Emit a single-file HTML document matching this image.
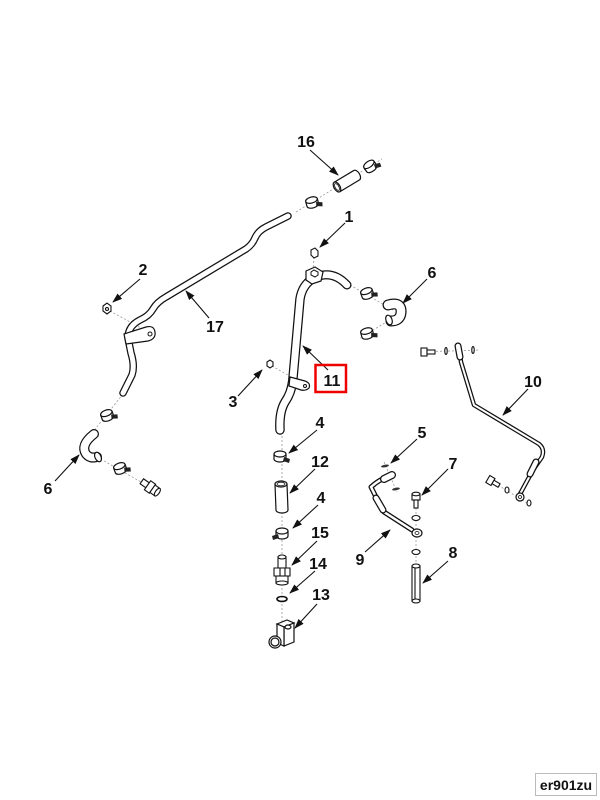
<!DOCTYPE html>
<html><head><meta charset="utf-8"><style>
html,body{margin:0;padding:0;background:#fff;}
svg{display:block}
text{font-family:"Liberation Sans",Arial,sans-serif;font-weight:bold;font-size:16px;fill:#111;text-anchor:middle}
</style></head><body>
<svg width="600" height="800" viewBox="0 0 600 800" xmlns="http://www.w3.org/2000/svg">
<defs>
<marker id="ah" markerWidth="10" markerHeight="8" refX="9" refY="4" orient="auto" markerUnits="userSpaceOnUse"><path d="M0,0.5 L10,4 L0,7.5z" fill="#111"/></marker>
<g id="clamp">
  <path d="M-6,-2 L-6,3 A6,3 0 0 0 6,3 L6,-2" fill="#fff" stroke="#111" stroke-width="1.2"/>
  <ellipse cx="0" cy="-2" rx="6" ry="3" fill="#fff" stroke="#111" stroke-width="1.2"/>
  <path d="M4,1 L10,3 L9,7 L3,5 Z" fill="#222"/>
</g>
</defs>

<!-- dashed centre lines -->
<g stroke="#999" stroke-width="0.8" stroke-dasharray="2,2" fill="none">
<path d="M296,212 L382,159"/>
<path d="M314,257 L313,270"/>
<path d="M110,311 L150,333"/>
<path d="M272,366 L307,386"/>
<path d="M350,285 L393,310"/>
<path d="M388,321 L360,338"/>
<path d="M123,394 L92,433"/>
<path d="M97,457 L150,487"/>
<path d="M282,432 L282,624"/>
<path d="M420,352 L480,350"/>
<path d="M488,479 L532,506"/>
<path d="M384,462 L397,492"/>
<path d="M416,492 L416,566"/>
</g>

<!-- pipe 17 -->
<g fill="none" stroke-linecap="round" stroke-linejoin="round">
<path d="M288,216 L266,227 Q258,231 255,238 Q252,245 246,249 L166,297 Q157,302 153,309 Q149,316 140,320 Q128,326 128,338 L131,353 Q135,366 132,375 L123,393" stroke="#111" stroke-width="7.5"/>
<path d="M288,216 L266,227 Q258,231 255,238 Q252,245 246,249 L166,297 Q157,302 153,309 Q149,316 140,320 Q128,326 128,338 L131,353 Q135,366 132,375 L123,393" stroke="#fff" stroke-width="5"/>
</g>
<path d="M124,334 L146,327 Q154,325 155,332 Q156,339 148,341 L126,344 Z" fill="#fff" stroke="#111" stroke-width="1.2"/>
<circle cx="150" cy="334" r="2" fill="#fff" stroke="#111" stroke-width="1"/>

<!-- pipe 11 -->
<g fill="none" stroke-linecap="round" stroke-linejoin="round">
<path d="M316,277 Q333,270 347,285" stroke="#111" stroke-width="9"/>
<path d="M316,277 Q333,270 347,285" stroke="#fff" stroke-width="6.5"/>
<path d="M312,279 Q302,286 300,299 L293,378 Q292,392 285,402 Q279,412 280,430" stroke="#111" stroke-width="9.5"/>
<path d="M312,279 Q302,286 300,299 L293,378 Q292,392 285,402 Q279,412 280,430" stroke="#fff" stroke-width="7"/>
</g>
<path d="M306,271 L315,267 L323,272 L321,281 L312,284 L306,280 Z" fill="#fff" stroke="#111" stroke-width="1.2"/>
<path d="M311,272 L314,270 L318,272 L318,275 L315,277 L311,275 Z" fill="#fff" stroke="#111" stroke-width="1"/>
<path d="M290,377 L305,381 Q311,383 309,388 Q306,391 301,390 L289,386 Z" fill="#fff" stroke="#111" stroke-width="1.2"/>
<circle cx="305" cy="386" r="1.5" fill="#fff" stroke="#111" stroke-width="1"/>

<!-- hose 16 -->
<g transform="translate(337,187) rotate(-31)">
  <path d="M0,-5.5 L23,-5.5 A3,5.5 0 0 1 23,5.5 L0,5.5" fill="#fff" stroke="#111" stroke-width="1.2"/>
  <ellipse cx="0" cy="0" rx="3" ry="5.5" fill="#fff" stroke="#111" stroke-width="1.2"/>
  <ellipse cx="0" cy="0" rx="1.8" ry="3.8" fill="#fff" stroke="#111" stroke-width="0.8"/>
</g>

<!-- clamps -->
<use href="#clamp" transform="translate(370,166) rotate(-35)"/>
<use href="#clamp" transform="translate(312,202) rotate(-15)"/>
<use href="#clamp" transform="translate(367,293) rotate(-20)"/>
<use href="#clamp" transform="translate(367,333) rotate(-15)"/>
<use href="#clamp" transform="translate(107,415) rotate(-20)"/>
<use href="#clamp" transform="translate(120,468) rotate(-20)"/>
<use href="#clamp" transform="translate(280,456)"/>
<use href="#clamp" transform="translate(282,533) scale(-1,1)"/>

<!-- elbow 6 right -->
<g fill="none" stroke-linecap="round">
<path d="M388,305 Q402,301 401,313 Q400,321 391,321" stroke="#111" stroke-width="11"/>
<path d="M388,305 Q402,301 401,313 Q400,321 391,321" stroke="#fff" stroke-width="8.5"/>
</g>
<ellipse cx="389" cy="320" rx="3" ry="5" fill="#fff" stroke="#111" stroke-width="1.2" transform="rotate(-20 389 320)"/>

<!-- elbow 6 left -->
<g fill="none" stroke-linecap="round">
<path d="M94,434 Q80,445 86,454 Q90,459 97,457" stroke="#111" stroke-width="10"/>
<path d="M94,434 Q80,445 86,454 Q90,459 97,457" stroke="#fff" stroke-width="7.5"/>
</g>
<ellipse cx="98" cy="457" rx="3" ry="5" fill="#fff" stroke="#111" stroke-width="1.2" transform="rotate(-25 98 457)"/>

<!-- left fitting -->
<g transform="translate(150,487) rotate(35)" fill="#fff" stroke="#111" stroke-width="1.1">
  <rect x="-10" y="-3" width="7" height="6"/>
  <rect x="-3" y="-5.5" width="6" height="11"/>
  <rect x="3" y="-4.5" width="6" height="9"/>
  <ellipse cx="9" cy="0" rx="2" ry="4.5"/>
</g>

<!-- nuts -->
<g fill="#fff" stroke="#111" stroke-width="1.1">
<path d="M311,250 L315,248 L318,251 L318,256 L314,258 L311,255 Z"/>
<path d="M103,306 L107,303 L111,306 L111,311 L107,314 L103,311 Z"/>
<circle cx="107" cy="309" r="1.5"/>
<path d="M267,362 L270,360 L273,362 L273,366 L270,368 L267,366 Z"/>
</g>

<!-- hose 12 -->
<path d="M275,484 L276,510 A6,3 0 0 0 288,510 L287,484" fill="#fff" stroke="#111" stroke-width="1.2"/>
<ellipse cx="281" cy="484" rx="6" ry="3" fill="#fff" stroke="#111" stroke-width="1.2"/>
<ellipse cx="281" cy="484" rx="4" ry="1.8" fill="#fff" stroke="#111" stroke-width="0.8"/>

<!-- fitting 15 -->
<g fill="#fff" stroke="#111" stroke-width="1.1">
<rect x="278" y="557" width="8" height="11"/>
<ellipse cx="282" cy="557" rx="4" ry="2"/>
<path d="M274,568 L290,568 L290,576 L274,576 Z"/>
<line x1="280" y1="568" x2="280" y2="576"/>
<line x1="285" y1="568" x2="285" y2="576"/>
<rect x="276" y="576" width="12" height="7"/>
<ellipse cx="282" cy="583" rx="6" ry="2"/>
</g>

<!-- o-ring 14 -->
<ellipse cx="282" cy="599" rx="5" ry="2.5" fill="none" stroke="#111" stroke-width="1.6"/>

<!-- elbow 13 -->
<g fill="#fff" stroke="#111" stroke-width="1.2">
<path d="M277,624 L287,620 L294,623 L284,627 Z"/>
<path d="M284,627 L294,623 L294,642 L284,646 Z"/>
<path d="M277,624 L284,627 L284,646 L277,643 Z"/>
<ellipse cx="288" cy="627" rx="3" ry="2"/>
<circle cx="275" cy="642" r="6"/>
<circle cx="275" cy="642" r="4"/>
</g>

<!-- pipe 10 -->
<g fill="none" stroke-linecap="round" stroke-linejoin="round">
<path d="M459,347 L461,362 L474,405 L539,444 Q545,449 542,457 L533,470 L520,494" stroke="#111" stroke-width="4.5"/>
<path d="M459,347 L461,362 L474,405 L539,444 Q545,449 542,457 L533,470 L520,494" stroke="#fff" stroke-width="2"/>
<path d="M458,346 L460,357" stroke="#111" stroke-width="7"/>
<path d="M458,346 L460,357" stroke="#fff" stroke-width="4.5"/>
<path d="M536,462 L530,474" stroke="#111" stroke-width="7"/>
<path d="M536,462 L530,474" stroke="#fff" stroke-width="4.5"/>
</g>
<circle cx="520" cy="497" r="4" fill="#fff" stroke="#111" stroke-width="1.2"/>
<circle cx="520" cy="497" r="1.5" fill="#fff" stroke="#111" stroke-width="0.8"/>

<!-- bolts & washers (10) -->
<g fill="#fff" stroke="#111" stroke-width="1.1">
<rect x="421" y="348" width="6" height="8"/>
<rect x="427" y="350" width="8" height="4"/>
<ellipse cx="446" cy="351" rx="1.2" ry="3.5"/>
<ellipse cx="473" cy="350" rx="1.2" ry="3.5"/>
<g transform="translate(493,482) rotate(30)">
<rect x="-6" y="-4" width="6" height="8"/>
<rect x="0" y="-2" width="7" height="4"/>
</g>
<ellipse cx="507" cy="490" rx="2" ry="3"/>
<ellipse cx="529" cy="503" rx="2" ry="3"/>
</g>

<!-- pipe 9 -->
<g fill="none" stroke-linecap="round" stroke-linejoin="round">
<path d="M391,476 Q381,478 371,487 L378,501 L384,512 L412,530" stroke="#111" stroke-width="5"/>
<path d="M391,476 Q381,478 371,487 L378,501 L384,512 L412,530" stroke="#fff" stroke-width="2.5"/>
<path d="M392,475 L384,479" stroke="#111" stroke-width="8"/>
<path d="M392,475 L384,479" stroke="#fff" stroke-width="5.5"/>
<path d="M376,498 L383,510" stroke="#111" stroke-width="7"/>
<path d="M376,498 L383,510" stroke="#fff" stroke-width="4.5"/>
</g>
<ellipse cx="417" cy="533" rx="5" ry="4" fill="#fff" stroke="#111" stroke-width="1.2"/>
<ellipse cx="417" cy="533" rx="2" ry="1.5" fill="#fff" stroke="#111" stroke-width="0.8"/>
<ellipse cx="385" cy="466" rx="4" ry="1.3" fill="#333" transform="rotate(-10 385 466)"/>
<ellipse cx="396" cy="489" rx="4" ry="1.3" fill="#333" transform="rotate(-10 396 489)"/>

<!-- bolt 7, washers, pin 8 -->
<g fill="#fff" stroke="#111" stroke-width="1.1">
<rect x="412" y="494" width="8" height="6"/>
<ellipse cx="416" cy="494" rx="4" ry="1.8"/>
<rect x="414" y="500" width="4" height="8"/>
<ellipse cx="416" cy="518" rx="4" ry="2.5"/>
<ellipse cx="416" cy="552" rx="4" ry="2.5"/>
<rect x="412" y="566" width="8" height="35"/>
<ellipse cx="416" cy="566" rx="4" ry="2"/>
<ellipse cx="416" cy="601" rx="4" ry="2"/>
<line x1="415" y1="568" x2="415" y2="599"/>
</g>

<!-- leaders -->
<g stroke="#111" stroke-width="1.1" marker-end="url(#ah)">
<line x1="310" y1="150" x2="338" y2="175"/>
<line x1="345" y1="223" x2="320" y2="247"/>
<line x1="140" y1="279" x2="113" y2="302"/>
<line x1="209" y1="318" x2="186" y2="291"/>
<line x1="427" y1="279" x2="403" y2="303"/>
<line x1="328" y1="370" x2="303" y2="346"/>
<line x1="238" y1="396" x2="262" y2="370"/>
<line x1="528" y1="389" x2="503" y2="415"/>
<line x1="317" y1="430" x2="289" y2="453"/>
<line x1="315" y1="469" x2="290" y2="493"/>
<line x1="417" y1="439" x2="391" y2="463"/>
<line x1="448" y1="469" x2="422" y2="495"/>
<line x1="55" y1="481" x2="79" y2="455"/>
<line x1="318" y1="505" x2="293" y2="528"/>
<line x1="317" y1="541" x2="292" y2="565"/>
<line x1="365" y1="552" x2="390" y2="530"/>
<line x1="448" y1="561" x2="423" y2="583"/>
<line x1="315" y1="571" x2="290" y2="593"/>
<line x1="317" y1="604" x2="295" y2="628"/>
</g>

<!-- labels -->
<text x="306" y="147">16</text>
<text x="349" y="222">1</text>
<text x="143" y="275">2</text>
<text x="215" y="332">17</text>
<text x="432" y="278">6</text>
<text x="332" y="386">11</text>
<text x="233" y="407">3</text>
<text x="533" y="387">10</text>
<text x="320" y="428">4</text>
<text x="320" y="467">12</text>
<text x="422" y="438">5</text>
<text x="453" y="469">7</text>
<text x="48" y="494">6</text>
<text x="321" y="503">4</text>
<text x="320" y="538">15</text>
<text x="360" y="565">9</text>
<text x="453" y="558">8</text>
<text x="318" y="569">14</text>
<text x="321" y="600">13</text>

<rect x="315.5" y="365" width="30.5" height="27" fill="none" stroke="#e00" stroke-width="2.5"/>

<rect x="535.5" y="773.5" width="61" height="22" fill="#fff" stroke="#bbb" stroke-width="1"/>
<text x="566" y="790" style="font-size:14px">er901zu</text>
</svg>
</body></html>
